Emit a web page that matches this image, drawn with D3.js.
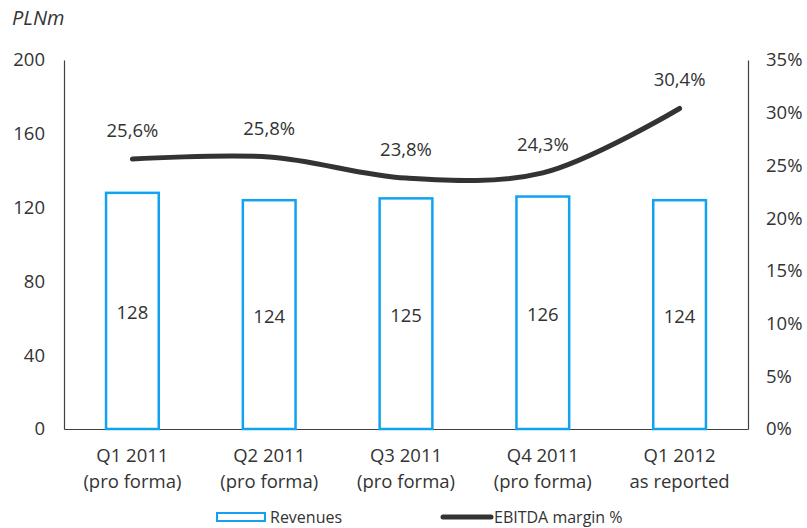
<!DOCTYPE html>
<html>
<head>
<meta charset="utf-8">
<script src="https://cdn.jsdelivr.net/npm/d3@7"></script>
<style>
  body { margin: 0; background: #fff; }
  svg text { font-family: "Open Sans", "Noto Sans", sans-serif; fill: #333; }
</style>
</head>
<body>
<div id="chart"></div>
<script>
var quarters = ["Q1 2011", "Q2 2011", "Q3 2011", "Q4 2011", "Q1 2012"];
var subLabels = ["(pro forma)", "(pro forma)", "(pro forma)", "(pro forma)", "as reported"];
var revenues = [128, 124, 125, 126, 124];
var margins = [25.6, 25.8, 23.8, 24.3, 30.4];
var leftTicks = [0, 40, 80, 120, 160, 200];
var rightTicks = [0, 5, 10, 15, 20, 25, 30, 35];

var width = 807, height = 528;
var plotLeft = 64, plotRight = 748, plotTop = 60, plotBottom = 429;
var fs = "18.5px";

var svg = d3.select("#chart").append("svg")
  .attr("width", width)
  .attr("height", height);

var x = d3.scaleBand().domain(quarters).range([plotLeft, plotRight]).paddingInner(0.6).paddingOuter(0.3);
var yL = d3.scaleLinear().domain([0, 200]).range([plotBottom, plotTop]);
var yR = d3.scaleLinear().domain([0, 35]).range([plotBottom, plotTop]);

// axes
var axisL = svg.append("g").attr("transform", "translate(" + plotLeft + ",0)")
  .call(d3.axisLeft(yL).tickValues(leftTicks).tickSize(0).tickPadding(19));
var axisR = svg.append("g").attr("transform", "translate(" + plotRight + ",0)")
  .call(d3.axisRight(yR).tickValues(rightTicks).tickSize(0).tickPadding(18)
    .tickFormat(function (d) { return d + "%"; }));
var axisB = svg.append("g").attr("transform", "translate(0," + plotBottom + ")")
  .call(d3.axisBottom(x).tickSize(0).tickFormat(""));

[axisL, axisR, axisB].forEach(function (a) {
  a.select(".domain").attr("stroke", "#404040").attr("stroke-width", 1.2);
  a.selectAll("text").style("font-size", fs).attr("fill", "#333");
});

// x labels, two lines
var xl = svg.append("g");
quarters.forEach(function (q, i) {
  var cx = x(q) + x.bandwidth() / 2;
  xl.append("text").attr("x", cx).attr("y", 462).attr("text-anchor", "middle")
    .style("font-size", fs).text(q);
  xl.append("text").attr("x", cx).attr("y", 488).attr("text-anchor", "middle")
    .style("font-size", fs).text(subLabels[i]);
});

// bars
svg.selectAll(".bar").data(revenues).enter().append("rect")
  .attr("class", "bar")
  .attr("x", function (d, i) { return x(quarters[i]) + 1; })
  .attr("y", function (d) { return yL(d); })
  .attr("width", x.bandwidth() - 2)
  .attr("height", function (d) { return yL(0) - yL(d); })
  .attr("fill", "none")
  .attr("stroke", "#12a2f0")
  .attr("stroke-width", 2.5);

svg.selectAll(".barlabel").data(revenues).enter().append("text")
  .attr("x", function (d, i) { return x(quarters[i]) + x.bandwidth() / 2; })
  .attr("y", function (d) { return (yL(d) + yL(0)) / 2 + 8; })
  .attr("text-anchor", "middle")
  .style("font-size", fs)
  .text(function (d) { return d; });

// line
var line = d3.line()
  .x(function (d, i) { return x(quarters[i]) + x.bandwidth() / 2; })
  .y(function (d) { return yR(d); })
  .curve(d3.curveCatmullRom.alpha(0.5));

svg.append("path").datum(margins)
  .attr("d", line)
  .attr("fill", "none")
  .attr("stroke", "#333")
  .attr("stroke-width", 5)
  .attr("stroke-linecap", "round");

svg.selectAll(".mlabel").data(margins).enter().append("text")
  .attr("x", function (d, i) { return x(quarters[i]) + x.bandwidth() / 2; })
  .attr("y", function (d) { return yR(d) - 22; })
  .attr("text-anchor", "middle")
  .style("font-size", fs)
  .attr("fill", "#444")
  .text(function (d) { return String(d).replace(".", ",") + "%"; });

// unit
svg.append("text").attr("x", 12).attr("y", 25)
  .style("font-size", "20px").style("font-style", "italic").attr("fill", "#222")
  .text("PLNm");

// legend
var lg = svg.append("g");
lg.append("rect").attr("x", 217).attr("y", 513).attr("width", 48).attr("height", 8)
  .attr("fill", "none").attr("stroke", "#12a2f0").attr("stroke-width", 2);
lg.append("text").attr("x", 270).attr("y", 523).style("font-size", "16px").text("Revenues");
lg.append("line").attr("x1", 443).attr("x2", 491).attr("y1", 517).attr("y2", 517)
  .attr("stroke", "#333").attr("stroke-width", 5).attr("stroke-linecap", "round");
lg.append("text").attr("x", 494).attr("y", 523).style("font-size", "16px").text("EBITDA margin %");
</script>
</body>
</html>
